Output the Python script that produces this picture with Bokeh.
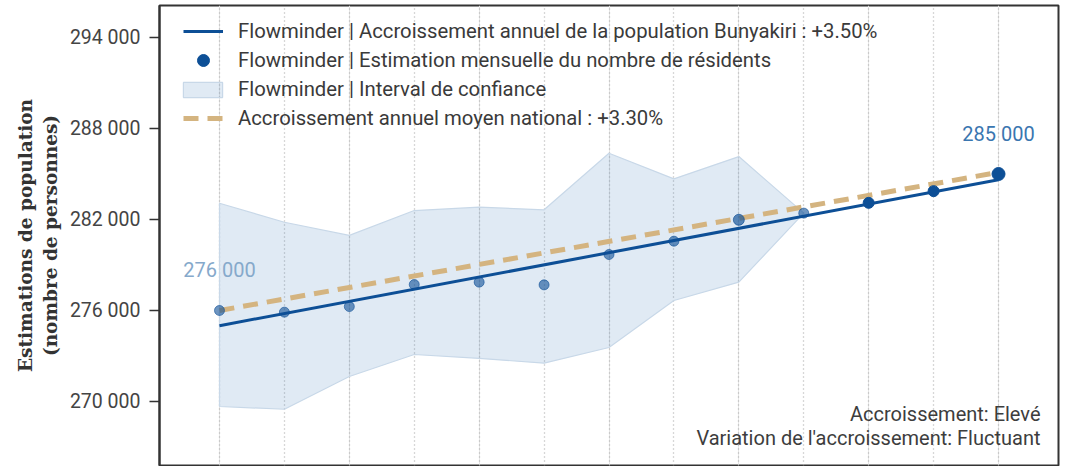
from bokeh.plotting import figure
from bokeh.models import (ColumnDataSource, FixedTicker, Label, Legend, LegendItem,
                          Range1d, Grid)
from bokeh.core.properties import value
from bokeh.embed import file_html
from bokeh.resources import INLINE

# ---- data ----
months = list(range(13))
estimates = [276000, 275890, 276260, 277710, 277870, 277690, 279690,
             280570, 281980, 282420, 283100, 283870, 285000]
point_alpha = [0.6, 0.6, 0.6, 0.6, 0.6, 0.6, 0.6, 0.62, 0.66, 0.6, 1.0, 1.0, 1.0]
point_size = [10, 10, 10, 10, 10, 10, 10, 10, 11, 10, 11, 11, 13]

ci_months = list(range(10))
ci_upper = [283070, 281820, 280950, 282590, 282810, 282640, 286370, 284680, 286150, 282420]
ci_lower = [269670, 269490, 271650, 273100, 272840, 272530, 273560, 276660, 277870, 282420]

trend_months = [0, 12]
trend_local = [275000, 284625]
trend_national = [276000, 285108]

y_ticks = [270000, 276000, 282000, 288000, 294000]

label_local = "Flowminder | Accroissement annuel de la population Bunyakiri : +3.50%"
label_points = "Flowminder | Estimation mensuelle du nombre de résidents"
label_ci = "Flowminder | Interval de confiance"
label_nat = "Accroissement annuel moyen national : +3.30%"
note_1 = "Accroissement: Elevé"
note_2 = "Variation de l'accroissement: Fluctuant"


def fmt(v):
    return f"{v:,}".replace(",", " ")


FONT = "Roboto"
BLUE = "#0d4f96"
TAN = "#d4b480"

FRAME_W = 899
FRAME_H = 460

p = figure(width=159 + FRAME_W + 3, height=5 + FRAME_H + 1,
           output_backend="svg", toolbar_location=None,
           x_range=Range1d(-0.924, 12.924), y_range=Range1d(265780, 296110),
           x_axis_location=None, min_border_left=159, min_border_right=3,
           min_border_top=5, min_border_bottom=1)
p.background_fill_color = "white"
p.border_fill_color = "white"
p.outline_line_color = "#333333"
p.outline_line_width = 2

# vertical dotted grid
grid = Grid(dimension=0, ticker=FixedTicker(ticks=months),
            grid_line_color="#b0b0b0", grid_line_dash="1 3", grid_line_width=1.3)
p.add_layout(grid)
p.ygrid.visible = False

# y axis
ax = p.yaxis[0]
ax.ticker = FixedTicker(ticks=y_ticks)
ax.major_label_overrides = {t: fmt(t) for t in y_ticks}
ax.minor_tick_line_color = None
ax.major_tick_in = 0
ax.major_tick_out = 10
ax.major_tick_line_color = "#333333"
ax.major_tick_line_width = 1.5
ax.axis_line_color = "#333333"
ax.axis_line_width = 2
ax.major_label_text_font = FONT
ax.major_label_text_font_size = "19.5px"
ax.major_label_text_color = "#444444"
ax.major_label_standoff = 9
ax.axis_label = "Estimations de population\n(nombre de personnes)"
ax.axis_label_text_font = "DejaVu Serif"
ax.axis_label_text_font_style = "bold"
ax.axis_label_text_font_size = "18.5px"
ax.axis_label_text_color = "#333333"
ax.axis_label_standoff = 6

# confidence band
band_x = ci_months + ci_months[::-1]
band_y = ci_upper + ci_lower[::-1]
r_band = p.patch(band_x, band_y, fill_color="#4a82bc", fill_alpha=0.17,
                 line_color="#c8d8e8", line_width=1.2)

# local trend
r_trend = p.line(trend_months, trend_local, line_color=BLUE, line_width=3)

# national trend
r_nat = p.line(trend_months, trend_national, line_color=TAN, line_width=5,
               line_dash="15 9")

# monthly estimates
src = ColumnDataSource(dict(x=months, y=estimates, a=point_alpha, s=point_size))
r_pts = p.scatter("x", "y", source=src, size="s", fill_color=BLUE, line_color=BLUE,
                  fill_alpha="a", line_alpha="a")

# first / last value labels
lab_src = ColumnDataSource(dict(
    x=[months[0], months[-1]], y=[estimates[0], estimates[-1]],
    t=[fmt(estimates[0]), fmt(estimates[-1])],
    c=["#86a9cb", "#3a76b0"]))
p.text("x", "y", text="t", source=lab_src, text_color="c",
       text_font=value(FONT), text_font_size="20px", text_align="center",
       text_baseline="middle", y_offset=-40)

# legend: one row per legend so each glyph box can be sized like the reference
ROW_H = 30
rows = [
    (LegendItem(label=label_local, renderers=[r_trend]), 40, 24, 15, 26),
    (LegendItem(label=label_points, renderers=[r_pts], index=12), 40, 30, 15, 55),
    (LegendItem(label=label_ci, renderers=[r_band]), 49, 19, 11, 84),
    (LegendItem(label=label_nat, renderers=[r_nat]), 40, 24, 15, 113),
]
for item, gw, gh, standoff, center_from_top in rows:
    x0 = 24 if gw == 40 else 19
    leg = Legend(items=[item], location=(x0, FRAME_H - center_from_top - ROW_H / 2))
    leg.padding = 0
    leg.margin = 0
    leg.spacing = 0
    leg.glyph_width = gw
    leg.glyph_height = gh
    leg.label_height = ROW_H
    leg.label_standoff = standoff
    leg.label_text_font = FONT
    leg.label_text_font_size = "20.3px"
    leg.label_text_color = "#3a3a3a"
    leg.border_line_color = None
    leg.background_fill_color = "white"
    leg.background_fill_alpha = 0.0
    p.add_layout(leg)

# notes
for txt, yy in [(note_1, 52), (note_2, 28)]:
    p.add_layout(Label(x=FRAME_W - 18, y=yy, x_units="screen", y_units="screen",
                       text=txt, text_align="right", text_baseline="middle",
                       text_font=FONT, text_font_size="20px", text_color="#3d3d3d"))

open("out.html", "w").write(file_html(p, INLINE))
